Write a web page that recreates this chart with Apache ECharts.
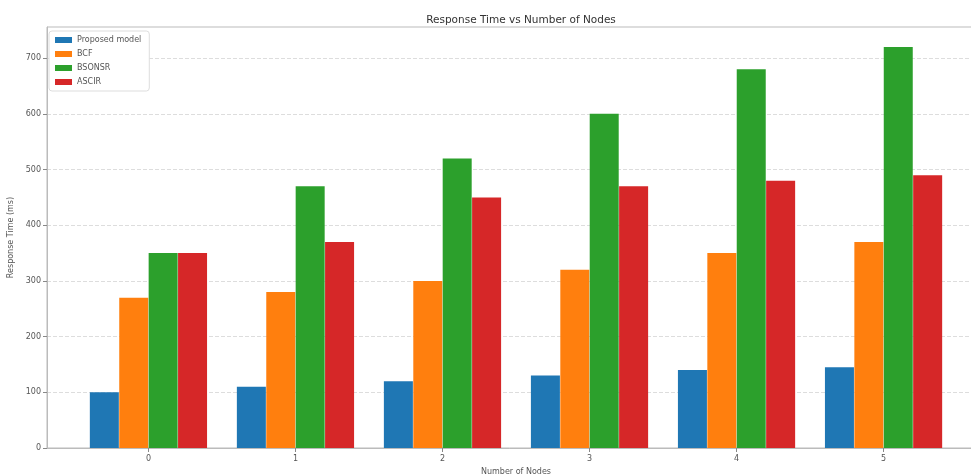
<!DOCTYPE html>
<html>
<head>
<meta charset="utf-8">
<script src="https://cdn.jsdelivr.net/npm/echarts@6/dist/echarts.min.js"></script>
<style>
  html, body { margin: 0; padding: 0; background: #fff; }
  #chart { width: 971px; height: 475px; }
</style>
</head>
<body>
<div id="chart"></div>
<script>
// data
var nodes = [0, 1, 2, 3, 4, 5];
var seriesNames = ['Proposed model', 'BCF', 'BSONSR', 'ASCIR'];
var proposed = [100, 110, 120, 130, 140, 145];
var bcf = [270, 280, 300, 320, 350, 370];
var bsonsr = [350, 470, 520, 600, 680, 720];
var ascir = [350, 370, 450, 470, 480, 490];

var colors = ['#1f77b4', '#ff7f0e', '#2ca02c', '#d62728'];
var offsets = [-0.3, -0.1, 0.1, 0.3];   // bar offsets inside a group (width 0.2 each)
var values = [proposed, bcf, bsonsr, ascir];

var myChart = echarts.init(document.getElementById('chart'));

var series = [];
for (var s = 0; s < seriesNames.length; s++) {
  var pts = [];
  for (var i = 0; i < nodes.length; i++) {
    pts.push([nodes[i] + offsets[s], values[s][i]]);
  }
  series.push({
    name: seriesNames[s],
    type: 'bar',
    data: pts,
    barWidth: 29,
    barGap: '-100%',
    itemStyle: { color: colors[s] }
  });
}

var axisText = { fontFamily: 'DejaVu Sans', fontSize: 8, color: '#555' };

var option = {
  animation: false,
  title: {
    text: 'Response Time vs Number of Nodes',
    left: 516, textAlign: 'center', top: 10,
    textStyle: { fontFamily: 'DejaVu Sans', fontSize: 10.5, fontWeight: 'normal', color: '#333' }
  },
  legend: {
    data: seriesNames,
    orient: 'vertical',
    left: 49, top: 31,
    itemWidth: 17, itemHeight: 6, itemGap: 6,
    padding: [5, 8, 5, 6],
    borderColor: '#ddd', borderWidth: 1, borderRadius: 3,
    backgroundColor: '#fff',
    icon: 'rect',
    textStyle: { fontFamily: 'DejaVu Sans', fontSize: 8, color: '#555' }
  },
  grid: {
    left: 47, right: -14, top: 27, bottom: 27,
    outerBoundsMode: 'none',
    containLabel: false,
    show: true, borderColor: '#bbb', borderWidth: 1
  },
  xAxis: {
    type: 'value',
    min: -0.69, max: 5.69,
    name: 'Number of Nodes',
    nameLocation: 'middle', nameGap: 20,
    nameTextStyle: axisText,
    axisLine: { show: true, onZero: false, lineStyle: { color: '#bbb' } },
    axisTick: { show: true, customValues: nodes, length: 4, lineStyle: { color: '#888' } },
    axisLabel: Object.assign({ customValues: nodes, formatter: function (v) { return String(Math.round(v)); }, margin: 7 }, axisText),
    splitLine: { show: false }
  },
  yAxis: {
    type: 'value',
    min: 0, max: 756, interval: 100,
    name: 'Response Time (ms)',
    nameLocation: 'middle', nameGap: 28, nameRotate: 90,
    nameTextStyle: axisText,
    axisLine: { show: true, onZero: false, lineStyle: { color: '#bbb' } },
    axisTick: { show: true, length: 4, lineStyle: { color: '#888' } },
    axisLabel: Object.assign({ showMaxLabel: false, margin: 6 }, axisText),
    splitLine: { show: true, lineStyle: { color: '#ddd', type: 'dashed', width: 1 } }
  },
  series: series
};

if (option && typeof option === 'object') {
  myChart.setOption(option, true);
}
</script>
</body>
</html>
